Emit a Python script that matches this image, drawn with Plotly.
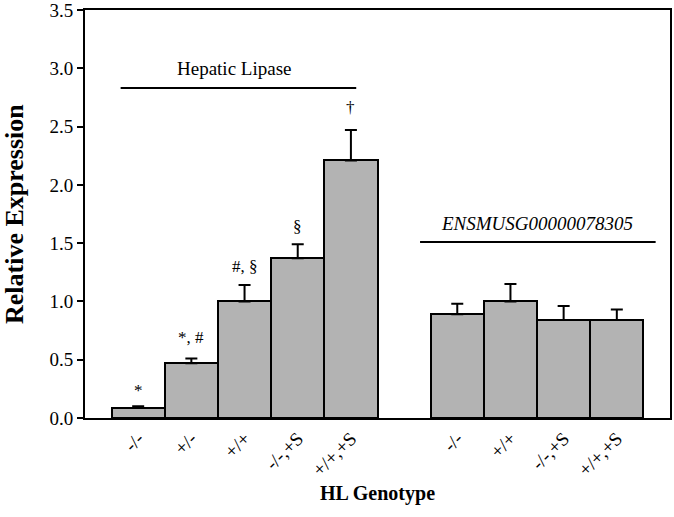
import plotly.graph_objects as go

# bar slots: 0-4 Hepatic Lipase, 6-9 ENSMUSG00000078305
positions = [0, 1, 2, 3, 4, 6, 7, 8, 9]
genotypes = ["-/-", "+/-", "+/+", "-/-,+S", "+/+,+S", "-/-", "+/+", "-/-,+S", "+/+,+S"]
expression = [0.09, 0.47, 1.00, 1.37, 2.21, 0.89, 1.00, 0.84, 0.84]
sem = [0.01, 0.04, 0.14, 0.12, 0.26, 0.09, 0.15, 0.12, 0.09]
sig_labels = ["*", "*, #", "#, §", "§", "†"]
sig_y = [0.24, 0.69, 1.30, 1.64, 2.66]

serif = "Liberation Serif, Times New Roman, serif"

fig = go.Figure()
fig.add_trace(go.Bar(
    x=positions,
    y=expression,
    width=1,
    marker=dict(color="#b3b3b3", line=dict(color="black", width=2)),
    error_y=dict(type="data", array=sem, arrayminus=[0] * len(sem), symmetric=False,
                 color="black", thickness=2, width=6),
))

for px, lab, yy in zip(positions[:5], sig_labels, sig_y):
    fig.add_annotation(x=px, y=yy, text=lab, showarrow=False,
                       font=dict(family=serif, size=17, color="black"))

# group brackets
fig.add_shape(type="line", x0=-0.33, x1=4.1, y0=2.83, y1=2.83, line=dict(color="black", width=2))
fig.add_annotation(x=1.8, y=3.0, text="Hepatic Lipase", showarrow=False,
                   font=dict(family=serif, size=19, color="black"))
fig.add_shape(type="line", x0=5.3, x1=9.73, y0=1.51, y1=1.51, line=dict(color="black", width=2))
fig.add_annotation(x=7.5, y=1.67, text="<i>ENSMUSG00000078305</i>", showarrow=False,
                   font=dict(family=serif, size=19, color="black"))

fig.add_annotation(x=0.5, y=-0.186, xref="paper", yref="paper", text="<b>HL Genotype</b>",
                   xanchor="center", yanchor="middle",
                   showarrow=False, font=dict(family=serif, size=20, color="black"))
fig.add_annotation(x=-71 / 585, y=0.5, xref="paper", yref="paper", text="<b>Relative Expression</b>",
                   xanchor="center", yanchor="middle",
                   textangle=-90, showarrow=False, font=dict(family=serif, size=26, color="black"))

fig.update_layout(
    width=674, height=517,
    margin=dict(l=85, r=4, t=10, b=99),
    plot_bgcolor="white", paper_bgcolor="white",
    showlegend=False, bargap=0,
    font=dict(family=serif, color="black"),
)
fig.update_xaxes(
    range=[-1, 10], tickvals=positions, ticktext=genotypes, tickangle=-45,
    showline=True, linecolor="black", linewidth=2, mirror=True, ticks="",
    showgrid=False, zeroline=False, automargin=False,
    tickfont=dict(family=serif, size=19, color="black"),
)
fig.update_yaxes(
    range=[0, 3.5], dtick=0.5, tickformat=".1f",
    showline=True, linecolor="black", linewidth=2, mirror=True,
    ticks="outside", ticklen=6, tickwidth=1.5, tickcolor="black",
    showgrid=False, zeroline=False, automargin=False, ticklabeloverflow="allow",
    tickfont=dict(family=serif, size=19, color="black"),
)

# drop the default 8px page margin so the figure fills the window exactly
fig.write_html("out.html", config={"responsive": False, "displayModeBar": False},
               post_script="document.body.style.margin='0';")
